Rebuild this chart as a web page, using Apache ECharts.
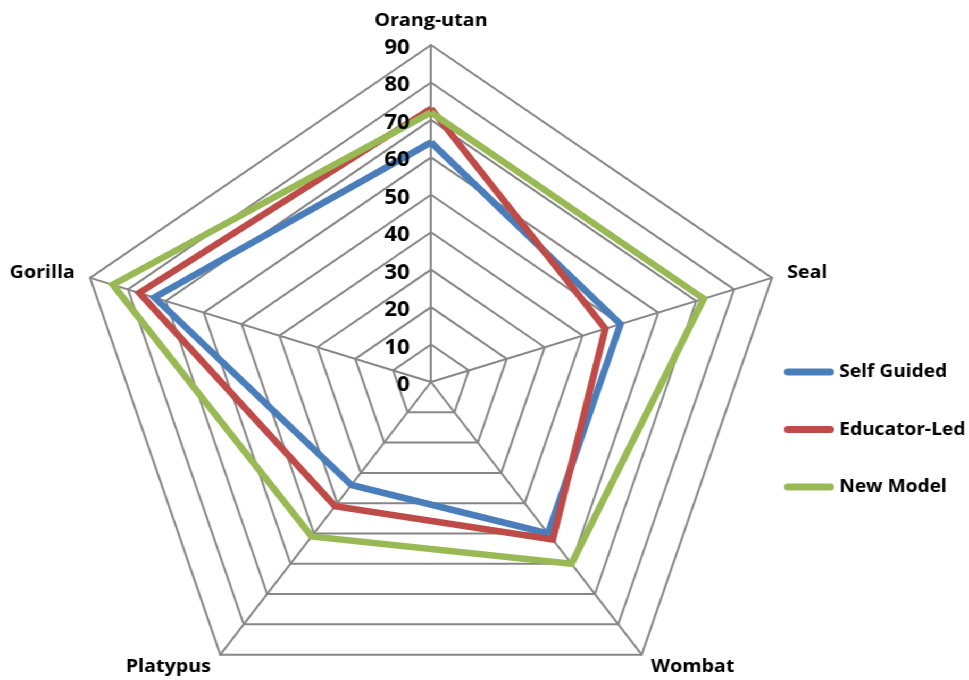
<!DOCTYPE html>
<html><head><meta charset="utf-8">
<script src="https://cdn.jsdelivr.net/npm/echarts@6/dist/echarts.min.js"></script>
<style>
html,body{margin:0;padding:0;background:#fff;overflow:hidden}
#wrap{width:969px;height:680px;overflow:hidden;position:relative}
#main{width:911px;height:680px;transform:scaleX(1.0637);transform-origin:0 0}
</style>
</head><body><div id="wrap"><div id="main"></div></div>
<script>
// Indicators in ECharts order (counter-clockwise from the top)
const indicatorNames = ['Orang-utan', 'Gorilla', 'Platypus', 'Wombat', 'Seal'];
const axisMin = 0;
const axisMax = 90;
const axisStep = 10;
const seriesNames = ['Self Guided', 'Educator-Led', 'New Model'];
const selfGuided  = [64, 73, 34, 50, 50];
const educatorLed = [73, 77, 41, 52, 46];
const newModel    = [72, 84, 51, 60, 72];
const seriesColors = ['#4A7EBB', '#BE4B48', '#98B954'];

const FONT = 'Open Sans';
const SX = 1.0637;
const cx = 431 / SX, cy = 382, R = 337;
const gridColor = '#868686';

const chart = echarts.init(document.getElementById('main'), null, {renderer: 'canvas'});
const values = [selfGuided, educatorLed, newModel];

chart.setOption({
  animation: false,
  backgroundColor: '#ffffff',
  legend: {
    orient: 'vertical',
    left: 784 / SX,
    top: 362,
    padding: 0,
    itemWidth: 50 / SX,
    itemHeight: 7,
    itemGap: 37.5,
    icon: 'path://M3.5,0H43.5A3.5,3.5,0,0,1,43.5,7H3.5A3.5,3.5,0,0,1,3.5,0Z',
    data: seriesNames,
    textStyle: {fontFamily: FONT, fontWeight: 'bold', fontSize: 18, color: '#000', lineHeight: 20}
  },
  radar: {
    center: [cx, cy],
    radius: R,
    startAngle: 90,
    splitNumber: (axisMax - axisMin) / axisStep,
    shape: 'polygon',
    nameGap: 15,
    axisName: {color: '#000', fontFamily: FONT, fontWeight: 'bold', fontSize: 18.5},
    axisLine: {lineStyle: {color: gridColor, width: 2}},
    splitLine: {lineStyle: {color: gridColor, width: 2}},
    splitArea: {show: false},
    axisTick: {show: false},
    axisLabel: {show: false},
    indicator: indicatorNames.map(n => ({name: n, min: axisMin, max: axisMax}))
  },
  grid: {left: cx, top: cy - R + 3, width: 1, height: R, containLabel: false, z: 20, zlevel: 1},
  xAxis: {type: 'value', show: false, min: 0, max: 1, zlevel: 1},
  yAxis: {
    type: 'value', min: axisMin, max: axisMax, interval: axisStep, z: 20, zlevel: 1,
    axisLine: {show: false}, axisTick: {show: false}, splitLine: {show: false},
    axisLabel: {margin: 20, color: '#000', fontFamily: FONT, fontWeight: 'bold', fontSize: 21}
  },
  series: seriesNames.map((name, i) => ({
    type: 'radar',
    name: name,
    symbol: 'none',
    z: 2 + i,
    itemStyle: {color: seriesColors[i]},
    lineStyle: {color: seriesColors[i], width: 6.5, join: 'miter'},
    data: [{name: name, value: values[i]}]
  }))
});
</script>
</body></html>
